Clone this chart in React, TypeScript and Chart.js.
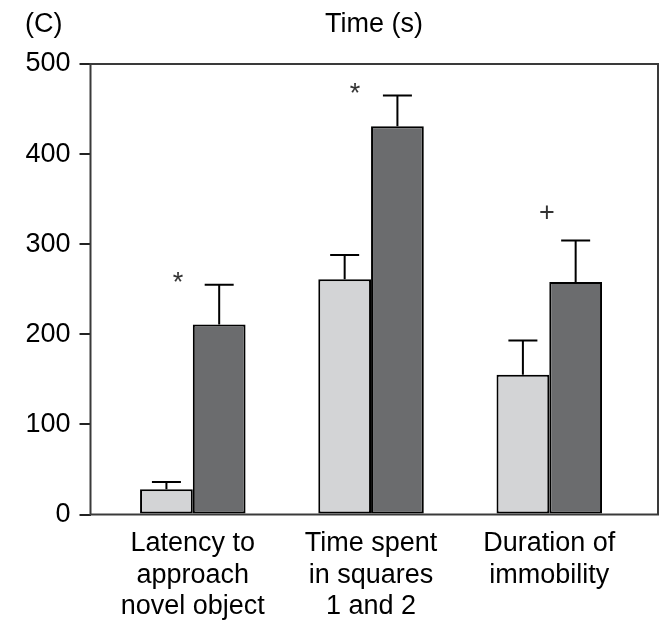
import React, { useEffect, useRef } from "react";
import { Chart, registerables } from "chart.js";

Chart.register(...registerables);

const categories: string[][] = [
  ["Latency to", "approach", "novel object"],
  ["Time spent", "in squares", "1 and 2"],
  ["Duration of", "immobility"],
];
const controlValues = [28, 261, 155];
const controlErrors = [8, 27, 38];
const treatedValues = [211, 431, 258];
const treatedErrors = [44, 34, 46];
const yTicks = [0, 100, 200, 300, 400, 500];
const markLabels = ["*", "*", "+"];
const markValues = [265, 475, 336];
const markShift = [-0.083, -0.09, -0.013];

const FONT = '"Liberation Sans", Arial, Helvetica, sans-serif';

export default function App() {
  const ref = useRef<HTMLCanvasElement | null>(null);

  useEffect(() => {
    const canvas = ref.current;
    if (!canvas) return;

    const frame = {
      id: "frame",
      beforeDatasetsDraw(chart: any) {
        const { ctx, chartArea } = chart;
        ctx.save();
        ctx.strokeStyle = "#3a3a3a";
        ctx.lineWidth = 2;
        ctx.strokeRect(chartArea.left, chartArea.top, chartArea.right - chartArea.left, chartArea.bottom - chartArea.top);
        ctx.restore();
      },
    };

    const extras = {
      id: "extras",
      afterDatasetsDraw(chart: any) {
        const { ctx } = chart;
        const ys = chart.scales.y;
        const xs = chart.scales.x;
        const errs = [controlErrors, treatedErrors];
        const vals = [controlValues, treatedValues];
        ctx.save();
        ctx.strokeStyle = "#000";
        ctx.lineWidth = 2;
        for (let d = 0; d < 2; d++) {
          const meta = chart.getDatasetMeta(d);
          meta.data.forEach((bar: any, i: number) => {
            const top = ys.getPixelForValue(vals[d][i]);
            const end = ys.getPixelForValue(vals[d][i] + errs[d][i]);
            ctx.beginPath();
            ctx.moveTo(bar.x, top);
            ctx.lineTo(bar.x, end);
            ctx.moveTo(bar.x - 14.5, end);
            ctx.lineTo(bar.x + 14.5, end);
            ctx.stroke();
          });
        }
        ctx.fillStyle = "#333";
        ctx.font = `27px ${FONT}`;
        ctx.textAlign = "center";
        ctx.textBaseline = "alphabetic";
        markLabels.forEach((m, i) => {
          const x = xs.getPixelForValue(i + markShift[i]);
          const y = ys.getPixelForValue(markValues[i]);
          const f = m === "*" ? 0.57 : 0.355;
          ctx.fillText(m, x, y + f * 27);
        });
        ctx.fillStyle = "#000";
        ctx.textAlign = "center";
        ctx.fillText("Time (s)", 374, 32);
        ctx.textAlign = "left";
        ctx.fillText("(C)", 25, 31.5);
        ctx.restore();
      },
    };

    const chart = new Chart(canvas, {
      type: "bar",
      data: {
        datasets: [
          {
            label: "Control",
            data: controlValues.map((v, i) => ({ x: i, y: v })),
            backgroundColor: "#d3d4d6",
            borderColor: "#000",
            borderWidth: 2,
            borderSkipped: false,
            categoryPercentage: 0.592,
            barPercentage: 1,
          },
          {
            label: "Treated",
            data: treatedValues.map((v, i) => ({ x: i, y: v })),
            backgroundColor: "#6b6c6e",
            borderColor: "#000",
            borderWidth: 2,
            borderSkipped: false,
            categoryPercentage: 0.592,
            barPercentage: 1,
          },
        ],
      },
      options: {
        animation: false,
        responsive: true,
        maintainAspectRatio: false,
        layout: { padding: { top: 64, right: 14, left: 0, bottom: 0 } },
        plugins: {
          legend: { display: false },
          tooltip: { enabled: false },
          title: { display: false },
        },
        scales: {
          x: {
            type: "linear",
            min: -0.574,
            max: 2.61,
            offset: false,
            grid: { display: false, drawTicks: false },
            border: { display: false },
            afterBuildTicks(scale: any) {
              scale.ticks = categories.map((_, i) => ({ value: i }));
            },
            afterFit(scale: any) {
              scale.height = 112.5;
            },
            ticks: {
              autoSkip: false,
              maxRotation: 0,
              minRotation: 0,
              padding: 14,
              color: "#000",
              font: { family: FONT, size: 27, lineHeight: 1.15 },
              callback: (value: any) => categories[Math.round(Number(value))] ?? "",
            },
          },
          y: {
            min: 0,
            max: 500,
            grid: {
              display: true,
              drawOnChartArea: false,
              drawTicks: true,
              tickLength: 11,
              color: "#222",
              lineWidth: 2,
            },
            border: { display: false },
            afterBuildTicks(scale: any) {
              scale.ticks = yTicks.map((v) => ({ value: v }));
            },
            afterFit(scale: any) {
              scale.width = 90.5;
            },
            ticks: {
              padding: 9,
              color: "#000",
              font: { family: FONT, size: 27 },
            },
          },
        },
      },
      plugins: [frame, extras],
    });

    return () => chart.destroy();
  }, []);

  return (
    <div style={{ position: "fixed", left: 0, top: 0, width: 672, height: 627, background: "#fff" }}>
      <canvas ref={ref} />
    </div>
  );
}
